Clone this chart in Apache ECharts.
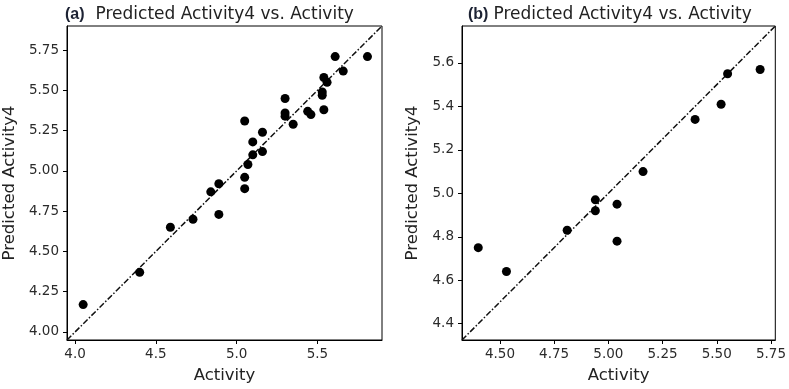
<!DOCTYPE html>
<html>
<head>
<meta charset="utf-8">
<script src="https://cdn.jsdelivr.net/npm/echarts@6/dist/echarts.min.js"></script>
<style>
  html, body { margin: 0; padding: 0; background: #fff; }
  #chart { width: 789px; height: 389px; }
</style>
</head>
<body>
<div id="chart"></div>
<script>
// panel (a)
const actualA = [4.05, 4.40, 4.59, 4.73, 4.84, 4.89, 4.89, 5.05, 5.05, 5.05, 5.07, 5.10, 5.10, 5.16, 5.16,
  5.30, 5.30, 5.30, 5.35, 5.44, 5.46, 5.53, 5.53, 5.54, 5.54, 5.56, 5.61, 5.66, 5.81];
const predictedA = [4.17, 4.37, 4.65, 4.70, 4.87, 4.92, 4.73, 4.96, 4.89, 5.31, 5.04, 5.10, 5.18, 5.12, 5.24,
  5.45, 5.36, 5.34, 5.29, 5.37, 5.35, 5.49, 5.47, 5.38, 5.58, 5.55, 5.71, 5.62, 5.71];
const xTicksA = [4.0, 4.5, 5.0, 5.5];
const yTicksA = [4.00, 4.25, 4.50, 4.75, 5.00, 5.25, 5.50, 5.75];
const rangeA = [3.95, 5.90];

// panel (b)
const actualB = [4.40, 4.53, 4.81, 4.94, 4.94, 5.04, 5.04, 5.16, 5.40, 5.52, 5.55, 5.70];
const predictedB = [4.75, 4.64, 4.83, 4.97, 4.92, 4.95, 4.78, 5.10, 5.34, 5.41, 5.55, 5.57];
const xTicksB = [4.50, 4.75, 5.00, 5.25, 5.50, 5.75];
const yTicksB = [4.4, 4.6, 4.8, 5.0, 5.2, 5.4, 5.6];
const rangeB = [4.325, 5.77];

const chart = echarts.init(document.getElementById('chart'));

const font = 'DejaVu Sans';

function xAxisFor(gridIndex, range, ticks, digits) {
  return {
    type: 'value', gridIndex, min: range[0], max: range[1],
    name: 'Activity', nameLocation: 'middle', nameGap: 27,
    nameTextStyle: { fontFamily: font, fontSize: 16.5, color: '#222' },
    axisLine: { show: true, onZero: false, lineStyle: { color: '#000' } },
    axisTick: { show: true, length: 4, customValues: ticks, lineStyle: { color: '#000' } },
    axisLabel: { customValues: ticks, fontFamily: font, fontSize: 13.5, color: '#2a2a2a', margin: 7,
      formatter: (v) => v.toFixed(digits) },
    splitLine: { show: false }
  };
}

function yAxisFor(gridIndex, range, ticks, digits, gap) {
  return {
    type: 'value', gridIndex, min: range[0], max: range[1],
    name: 'Predicted Activity4', nameLocation: 'middle', nameGap: gap,
    nameTextStyle: { fontFamily: font, fontSize: 16.5, color: '#222' },
    axisLine: { show: true, onZero: false, lineStyle: { color: '#000' } },
    axisTick: { show: true, length: 4, customValues: ticks, lineStyle: { color: '#000' } },
    axisLabel: { customValues: ticks, fontFamily: font, fontSize: 13.5, color: '#2a2a2a', margin: 8,
      formatter: (v) => v.toFixed(digits) },
    splitLine: { show: false }
  };
}

// panel letter is pasted in a different (bold) font
function titleFor(letter, left, gap) {
  return {
    text: '{b|(' + letter + ')}{n|Predicted Activity4 vs. Activity}',
    left, top: 1,
    textStyle: {
      rich: {
        b: { fontFamily: 'Liberation Sans', fontSize: 16, fontWeight: 'bold', color: '#1c2233', padding: [0, gap, 0, 0] },
        n: { fontFamily: font, fontSize: 17, fontWeight: 'normal', color: '#222' }
      }
    }
  };
}

const diagStyle = { color: '#111', width: 1.5, type: [6, 2, 1.5, 2] };

const option = {
  animation: false,
  title: [titleFor('a', 60, 11), titleFor('b', 463, 5)],
  grid: [
    { left: 66, top: 26, width: 316, height: 316, show: true, borderColor: '#000', borderWidth: 1 },
    { left: 462, top: 26, width: 317, height: 316, show: true, borderColor: '#000', borderWidth: 1 }
  ],
  xAxis: [xAxisFor(0, rangeA, xTicksA, 1), xAxisFor(1, rangeB, xTicksB, 2)],
  yAxis: [yAxisFor(0, rangeA, yTicksA, 2, 49), yAxisFor(1, rangeB, yTicksB, 1, 41)],
  series: [
    {
      type: 'line', xAxisIndex: 0, yAxisIndex: 0, symbol: 'none',
      data: [[rangeA[0], rangeA[0]], [rangeA[1], rangeA[1]]], lineStyle: diagStyle, z: 1
    },
    {
      type: 'scatter', xAxisIndex: 0, yAxisIndex: 0, symbolSize: 9,
      itemStyle: { color: '#000', opacity: 1 },
      data: actualA.map((x, i) => [x, predictedA[i]]), z: 2
    },
    {
      type: 'line', xAxisIndex: 1, yAxisIndex: 1, symbol: 'none',
      data: [[rangeB[0], rangeB[0]], [rangeB[1], rangeB[1]]], lineStyle: diagStyle, z: 1
    },
    {
      type: 'scatter', xAxisIndex: 1, yAxisIndex: 1, symbolSize: 9,
      itemStyle: { color: '#000', opacity: 1 },
      data: actualB.map((x, i) => [x, predictedB[i]]), z: 2
    }
  ]
};

chart.setOption(option);
</script>
</body>
</html>
